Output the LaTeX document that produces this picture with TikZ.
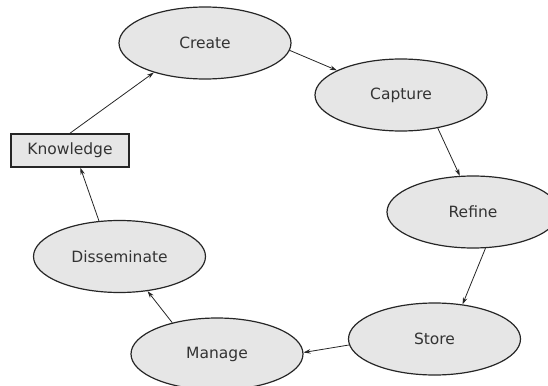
\documentclass[tikz,border=0pt]{standalone}
\usepackage{fontspec}
\setmainfont{DejaVu Sans}
\usetikzlibrary{shapes.geometric,arrows.meta}
\definecolor{stagefill}{HTML}{E6E6E6}
\definecolor{stageline}{HTML}{262626}
\definecolor{stagetext}{HTML}{333333}
\begin{document}
\begin{tikzpicture}[x=1pt,y=-1pt,
  stage/.style={ellipse,draw=stageline,line width=1.2pt,fill=stagefill,
    minimum width=172pt,minimum height=72pt,inner sep=0pt,
    text=stagetext,font=\fontsize{15.5}{18}\selectfont},
  result/.style={rectangle,draw=stageline,line width=1.6pt,fill=stagefill,
    minimum width=118pt,minimum height=33pt,inner sep=0pt,
    text=stagetext,font=\fontsize{15.5}{18}\selectfont},
  flow/.style={draw=stageline,line width=0.8pt,
    -{Stealth[length=7pt,width=4.5pt]}}]
  \useasboundingbox (0,0) rectangle (548,385);

  % knowledge cycle stages
  \node[stage] (create) at (205,43) {Create};
  \node[stage] (capture) at (401,95) {Capture};
  \node[stage] (refine) at (473,212) {Refine};
  \node[stage] (store) at (434.5,339) {Store};
  \node[stage] (manage) at (217,354) {Manage};
  \node[stage] (dissem) at (119.5,256.5) {Disseminate};
  \node[result] (know) at (70,150.5) {Knowledge};

  % connectors around the cycle
  \draw[flow] (create.-5) -- (capture.159);
  \draw[flow] (capture.-42) -- (refine.110);
  \draw[flow] (refine.-71) -- (store.51);
  \draw[flow] (store.184) -- (manage.1);
  \draw[flow] (manage.145) -- (dissem.-51);
  \draw[flow] (dissem.120) -- (know.-59);
  \draw[flow] (know.north) -- (create.210);
\end{tikzpicture}
\end{document}
